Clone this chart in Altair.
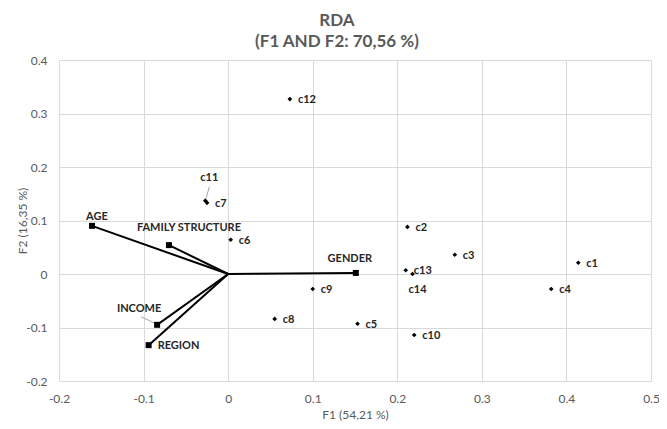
import altair as alt
import pandas as pd

# Observations (sites)
obs_names = ["c1", "c2", "c3", "c4", "c5", "c6", "c7", "c8", "c9", "c10", "c11", "c12", "c13", "c14"]
obs_x = [0.414, 0.212, 0.268, 0.382, 0.153, 0.003, -0.025, 0.055, 0.100, 0.220, -0.027, 0.073, 0.210, 0.218]
obs_y = [0.021, 0.088, 0.036, -0.028, -0.093, 0.064, 0.133, -0.084, -0.028, -0.114, 0.137, 0.327, 0.007, 0.000]

# Explanatory variables (vectors from origin)
var_names = ["AGE", "FAMILY STRUCTURE", "GENDER", "INCOME", "REGION"]
var_x = [-0.161, -0.070, 0.151, -0.084, -0.094]
var_y = [0.090, 0.054, 0.002, -0.095, -0.133]

x_ticks = [-0.2, -0.1, 0.0, 0.1, 0.2, 0.3, 0.4, 0.5]
y_ticks = [-0.2, -0.1, 0.0, 0.1, 0.2, 0.3, 0.4]

title_lines = ["RDA", "(F1 AND F2: 70,56 %)"]
x_title = "F1 (54,21 %)"
y_title = "F2 (16,35 %)"

FONT = "Lato"
LBL = "#262626"
GRAY = "#595959"

obs = pd.DataFrame({"name": obs_names, "x": obs_x, "y": obs_y})
var = pd.DataFrame({"name": var_names, "x": var_x, "y": var_y, "x0": 0.0, "y0": 0.0})

label_expr = "datum.value == 0 ? '0' : replace(format(datum.value, '.1f'), '\u2212', '-')"

xs = alt.Scale(domain=[-0.2, 0.5], nice=False, zero=False)
ys = alt.Scale(domain=[-0.2, 0.4], nice=False, zero=False)

X = alt.X("x:Q", scale=xs, axis=alt.Axis(values=x_ticks, labelExpr=label_expr, title=x_title,
                                         grid=True, ticks=False, domain=False, labelFlush=False,
                                         labelPadding=12, titlePadding=5))
Y = alt.Y("y:Q", scale=ys, axis=alt.Axis(values=y_ticks, labelExpr=label_expr, title=y_title,
                                         grid=True, ticks=False, domain=False, labelFlush=False,
                                         labelPadding=12, titlePadding=-4))

base_obs = alt.Chart(obs)
base_var = alt.Chart(var)

arrows = base_var.mark_rule(color="black", strokeWidth=2).encode(
    x=X, y=Y, x2="x0:Q", y2="y0:Q")
squares = base_var.mark_point(shape="square", filled=True, size=36, color="black", opacity=1).encode(x=X, y=Y)
diamonds = base_obs.mark_point(shape="diamond", filled=True, size=22, color="black", opacity=1).encode(x=X, y=Y)

def txt(base, names, **kw):
    props = dict(font=FONT, fontSize=11, fontWeight="bold", color=LBL, baseline="middle")
    props.update(kw)
    return base.transform_filter(alt.FieldOneOfPredicate(field="name", oneOf=names)).mark_text(**props).encode(
        x=X, y=Y, text="name:N")

right_names = ["c1", "c2", "c3", "c4", "c5", "c6", "c7", "c8", "c9", "c10", "c12", "c13"]
lab_right = txt(base_obs, right_names, align="left", dx=8, dy=1)
lab_c11 = txt(base_obs, ["c11"], align="center", dx=4, dy=-23)
lab_c14 = txt(base_obs, ["c14"], align="center", dx=5, dy=16)
lab_age = txt(base_var, ["AGE"], align="center", dx=5, dy=-9)
lab_fam = txt(base_var, ["FAMILY STRUCTURE"], align="center", dx=20, dy=-17)
lab_gen = txt(base_var, ["GENDER"], align="center", dx=-6, dy=-14)
lab_inc = txt(base_var, ["INCOME"], align="center", dx=-18, dy=-16)
lab_reg = txt(base_var, ["REGION"], align="left", dx=9, dy=1)

lead_c11 = base_obs.transform_filter(alt.datum.name == "c11").mark_rule(
    color="#a6a6a6", strokeWidth=1, xOffset=1, yOffset=-3, x2Offset=4, y2Offset=-14).encode(
    x=X, y=Y, x2="x:Q", y2="y:Q")
lead_inc = base_var.transform_filter(alt.datum.name == "INCOME").mark_rule(
    color="#a6a6a6", strokeWidth=1, xOffset=-3, yOffset=-2, x2Offset=-16, y2Offset=-8).encode(
    x=X, y=Y, x2="x:Q", y2="y:Q")

chart = alt.layer(
    arrows, lead_c11, lead_inc, squares, diamonds,
    lab_right, lab_c11, lab_c14, lab_age, lab_fam, lab_gen, lab_inc, lab_reg
).properties(
    width=592, height=321,
    autosize=alt.AutoSizeParams(type="none"),
    padding={"left": 51, "top": 52, "right": 8, "bottom": 40},
    title=alt.TitleParams(text=title_lines, font=FONT, fontSize=17, fontWeight="bold", color=GRAY,
                          anchor="middle", dx=-18, offset=3, lineHeight=21),
).configure_view(stroke=None).configure_axis(
    gridColor="#d9d9d9", gridWidth=1,
    labelFont=FONT, labelFontSize=12, labelColor=GRAY,
    titleFont=FONT, titleFontSize=12, titleColor=GRAY, titleFontWeight="normal",
)

chart.save("out.html", embed_options={"renderer": "svg", "actions": False})
